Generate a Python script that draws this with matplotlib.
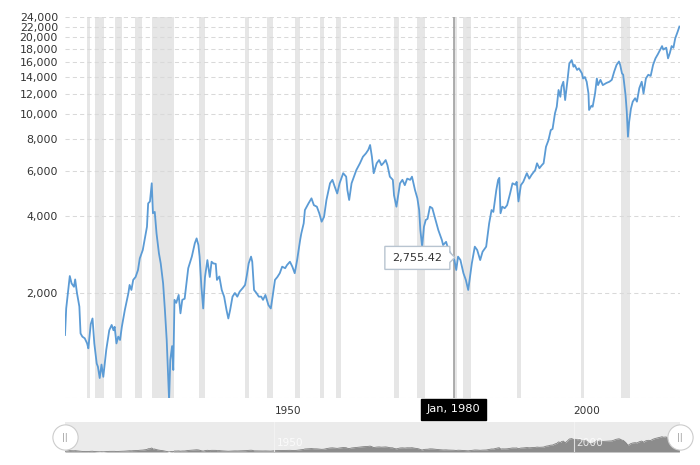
import matplotlib
matplotlib.use("Agg")
import matplotlib.pyplot as plt
from matplotlib.patches import Polygon
from matplotlib.transforms import IdentityTransform, blended_transform_factory

# Dow Jones, inflation adjusted
years = [1915.0, 1915.2, 1915.8, 1916.1, 1916.5, 1916.7, 1917.0, 1917.4, 1917.6, 1917.9,
         1918.3, 1918.7, 1918.9, 1919.3, 1919.6, 1919.9, 1920.3, 1920.5, 1920.8, 1921.1,
         1921.4, 1921.9, 1922.4, 1922.8, 1923.1, 1923.3, 1923.6, 1923.9, 1924.2, 1924.5,
         1925.0, 1925.6, 1925.8, 1926.1, 1926.4, 1926.8, 1927.2, 1927.5, 1928.0, 1928.3,
         1928.7, 1928.9, 1929.2, 1929.5, 1929.7, 1930.0, 1930.3, 1930.7, 1931.0, 1931.4,
         1931.7, 1932.0, 1932.2, 1932.4, 1932.6, 1932.9, 1933.1, 1933.3, 1933.6, 1934.0,
         1934.3, 1934.6, 1935.0, 1935.6, 1936.2, 1936.7, 1937.0, 1937.3, 1937.5, 1937.8,
         1938.1, 1938.4, 1938.8, 1939.2, 1939.5, 1939.8, 1940.2, 1940.4, 1940.8, 1941.2,
         1941.6, 1942.0, 1942.3, 1942.6, 1943.0, 1943.4, 1943.8, 1944.2, 1944.7, 1945.1,
         1945.4, 1945.7, 1946.1, 1946.3, 1946.6, 1947.0, 1947.4, 1947.8, 1948.1, 1948.5,
         1949.0, 1949.4, 1949.7, 1950.1, 1950.5, 1950.9, 1951.3, 1951.8, 1952.1, 1952.6,
         1953.0, 1953.4, 1953.8, 1954.3, 1954.5, 1954.9, 1955.1, 1955.7, 1956.2, 1956.6,
         1957.1, 1957.5, 1957.9, 1958.3, 1958.7, 1959.3, 1959.7, 1960.1, 1960.5, 1960.9,
         1961.5, 1962.0, 1962.2, 1962.5, 1962.9, 1963.3, 1963.7, 1964.3, 1964.8, 1965.3,
         1965.7, 1966.0, 1966.3, 1966.6, 1967.1, 1967.5, 1967.9, 1968.2, 1968.6, 1968.9,
         1969.3, 1969.8, 1970.0, 1970.4, 1970.7, 1971.0, 1971.4, 1971.8, 1972.2, 1972.7,
         1973.0, 1973.5, 1973.9, 1974.2, 1974.4, 1974.7, 1975.0, 1975.3, 1975.6, 1976.0,
         1976.4, 1976.8, 1977.4, 1978.0, 1978.2, 1978.7, 1979.1, 1979.6, 1980.0, 1980.4,
         1980.7, 1981.1, 1981.6, 1982.0, 1982.4, 1982.7, 1983.0, 1983.5, 1983.9, 1984.4,
         1984.8, 1985.4, 1985.9, 1986.3, 1986.6, 1987.1, 1987.4, 1987.6, 1987.8, 1988.1,
         1988.5, 1988.9, 1989.4, 1989.8, 1990.3, 1990.5, 1990.8, 1991.2, 1991.6, 1992.2,
         1992.6, 1993.0, 1993.6, 1993.9, 1994.3, 1994.7, 1995.0, 1995.4, 1995.8, 1996.2,
         1996.5, 1996.9, 1997.2, 1997.5, 1997.8, 1998.0, 1998.3, 1998.6, 1999.0, 1999.3,
         1999.7, 2000.0, 2000.2, 2000.6, 2000.9, 2001.4, 2001.6, 2001.9, 2002.2, 2002.5,
         2002.6, 2003.0, 2003.2, 2003.6, 2003.9, 2004.1, 2004.5, 2004.9, 2005.5, 2006.0,
         2006.4, 2006.8, 2007.2, 2007.6, 2007.8, 2008.1, 2008.3, 2008.5, 2008.7, 2008.9,
         2009.1, 2009.3, 2009.6, 2009.9, 2010.3, 2010.6, 2011.0, 2011.4, 2011.7, 2012.1,
         2012.5, 2012.9, 2013.3, 2013.7, 2014.1, 2014.5, 2014.8, 2015.0, 2015.5, 2015.8,
         2016.1, 2016.4, 2016.7, 2017.0, 2017.4, 2017.7]
values = [1370, 1740, 2330, 2180, 2115, 2260, 2000, 1770, 1390, 1350,
          1330, 1270, 1215, 1510, 1590, 1270, 1060, 1030, 930, 1050,
          940, 1200, 1430, 1500, 1430, 1475, 1270, 1350, 1310, 1475,
          1715, 2000, 2150, 2055, 2250, 2310, 2460, 2730, 2945, 3220,
          3630, 4480, 4560, 5370, 4100, 4150, 3420, 2860, 2610, 2180,
          1715, 1310, 1000, 760, 1095, 1240, 1000, 1880, 1830, 1965,
          1665, 1880, 1900, 2500, 2775, 3130, 3270, 3080, 2775, 2115,
          1740, 2310, 2690, 2310, 2650, 2610, 2600, 2250, 2320, 2055,
          1935, 1715, 1590, 1715, 1935, 2000, 1935, 2025, 2090, 2150,
          2350, 2610, 2775, 2650, 2055, 2000, 1935, 1935, 1880, 1965,
          1795, 1740, 1935, 2250, 2310, 2390, 2535, 2500, 2570, 2650,
          2535, 2390, 2690, 3220, 3420, 3745, 4220, 4480, 4690, 4410,
          4350, 4100, 3800, 3970, 4620, 5370, 5540, 5200, 4900, 5370,
          5880, 5700, 5060, 4620, 5370, 5700, 6050, 6430, 6820, 7030,
          7260, 7580, 6820, 5880, 6430, 6620, 6320, 6430, 6620, 6320,
          5700, 5540, 4820, 4350, 4820, 5370, 5540, 5280, 5600, 5540,
          5700, 5060, 4690, 4220, 3525, 3035, 3630, 3860, 3900, 4350,
          4290, 3970, 3525, 3220, 3080, 3170, 2945, 2820, 2755, 2460,
          2775, 2690, 2390, 2250, 2055, 2310, 2610, 3035, 2945, 2690,
          2900, 3035, 3745, 4220, 4150, 5060, 5540, 5640, 4100, 4350,
          4290, 4410, 4900, 5370, 5300, 5440, 4560, 5280, 5440, 5880,
          5600, 5800, 6050, 6430, 6150, 6320, 6430, 7460, 7900, 8670,
          8760, 10080, 10700, 12440, 11700, 12810, 13400, 11360, 13630, 15800,
          16280, 15340, 15580, 14900, 15120, 14450, 13800, 13980, 13400, 12050,
          10390, 10800, 10700, 12050, 13800, 13000, 13630, 13000, 13250, 13400,
          13630, 14680, 15600, 16080, 15600, 14450, 14270, 13000, 11870, 10250,
          8170, 9340, 10520, 11200, 11550, 11200, 12650, 13400, 12050, 13800,
          14270, 14120, 15600, 16540, 17170, 17900, 18470, 17900, 18200, 16540,
          17350, 18470, 18200, 19800, 21000, 22020]

# recessions (start, end)
rec_start = [1918.67, 1920.0, 1923.33, 1926.75, 1929.58, 1937.33, 1945.08, 1948.83, 1953.5,
             1957.58, 1960.25, 1969.92, 1973.83, 1980.0, 1981.5, 1990.5, 2001.17, 2007.92]
rec_end = [1919.17, 1921.5, 1924.5, 1927.83, 1933.17, 1938.42, 1945.75, 1949.75, 1954.33,
           1958.25, 1961.08, 1970.83, 1975.17, 1980.5, 1982.83, 1991.17, 2001.83, 2009.42]

ytick_vals = [2000, 4000, 6000, 8000, 10000, 12000, 14000, 16000, 18000, 20000, 22000, 24000]
xtick_vals = [1950, 2000]
hover_year, hover_val = 1980.0, 2755.42

xmin, xmax = 1915.0, 2017.8
ymin, ymax = 777, 24000
line_col = "#5b9bd5"
txt_col = "#333333"

fig = plt.figure(figsize=(7, 4.65), dpi=100)
ax = fig.add_axes([65 / 700, 67 / 465, 615 / 700, 381 / 465])
ax.set_yscale("log")
ax.set_xlim(xmin, xmax)
ax.set_ylim(ymin, ymax)

for s, e in zip(rec_start, rec_end):
    ax.axvspan(s, e, color="#e6e6e6", lw=0, zorder=0)

for v in ytick_vals + [ymin]:
    ax.axhline(v, color="#d9d9d9", lw=0.75, ls=(0, (4, 3)), zorder=1)

ax.plot(years, values, color=line_col, lw=1.3, zorder=3)

# crosshair
ax.axvline(hover_year, color="#a0a0a0", lw=1.2, zorder=2)

ax.yaxis.set_major_locator(plt.FixedLocator(ytick_vals))
ax.yaxis.set_minor_locator(plt.NullLocator())
ax.set_yticklabels([f"{v:,}" for v in ytick_vals], fontsize=7.9, color=txt_col)
ax.set_xticks(xtick_vals)
ax.set_xticklabels([str(x) for x in xtick_vals], fontsize=7.6, color=txt_col)
for lbl in ax.get_xticklabels():
    lbl.set_ha("left")
ax.tick_params(axis="y", length=0, pad=5)
ax.tick_params(axis="x", length=0, pad=6)
for sp in ax.spines.values():
    sp.set_visible(False)

# date label under crosshair
trans = blended_transform_factory(ax.transData, ax.transAxes)
ax.text(hover_year, -0.030, "Jan, 1980", transform=trans, ha="center", va="center",
        fontsize=8.2, color="white",
        bbox=dict(boxstyle="square,pad=0.5", fc="black", ec="black"), zorder=6)

# tooltip callout
px, py = ax.transData.transform((hover_year, hover_val))
pts = [(px - 69, py + 11), (px - 4, py + 11), (px - 4, py + 5), (px + 1, py),
       (px - 4, py - 5), (px - 4, py - 12), (px - 69, py - 12)]
fig.add_artist(Polygon(pts, closed=True, transform=IdentityTransform(),
                       fc="white", ec="#b8c4d0", lw=1, zorder=7))
fig.text(px - 36.5, py - 0.5, f"{hover_val:,.2f}", transform=IdentityTransform(),
         ha="center", va="center", fontsize=8.1, color=txt_col, zorder=8)

# navigator
nav = fig.add_axes([65 / 700, 13 / 465, 615 / 700, 30 / 465])
nav.set_facecolor("#ebebeb")
nav.fill_between(years, values, 700, color="#8c8c8c", lw=0)
nav.plot(years, values, color="#7f7f7f", lw=0.6)
nav.set_xlim(xmin, xmax)
nav.set_ylim(700, 35600)
nav.set_xticks([])
nav.set_yticks([])
for sp in nav.spines.values():
    sp.set_visible(False)
ntrans = blended_transform_factory(nav.transData, nav.transAxes)
for x in xtick_vals:
    nav.axvline(x, color="#f4f4f4", lw=0.8, alpha=0.8)
    nav.text(x + 0.4, 0.3, str(x), transform=ntrans, ha="left", va="center",
             fontsize=7.6, color="white", alpha=0.8)
nav.scatter([0, 1], [0.5, 0.5], s=330, transform=nav.transAxes, clip_on=False,
            facecolor="white", edgecolor="#cccccc", lw=0.8, zorder=10)
for hx in [0, 1]:
    nav.text(hx, 0.5, "||", transform=nav.transAxes, ha="center", va="center",
             fontsize=6, color="#999999", zorder=11, clip_on=False)

fig.savefig("out.png", dpi=100)
